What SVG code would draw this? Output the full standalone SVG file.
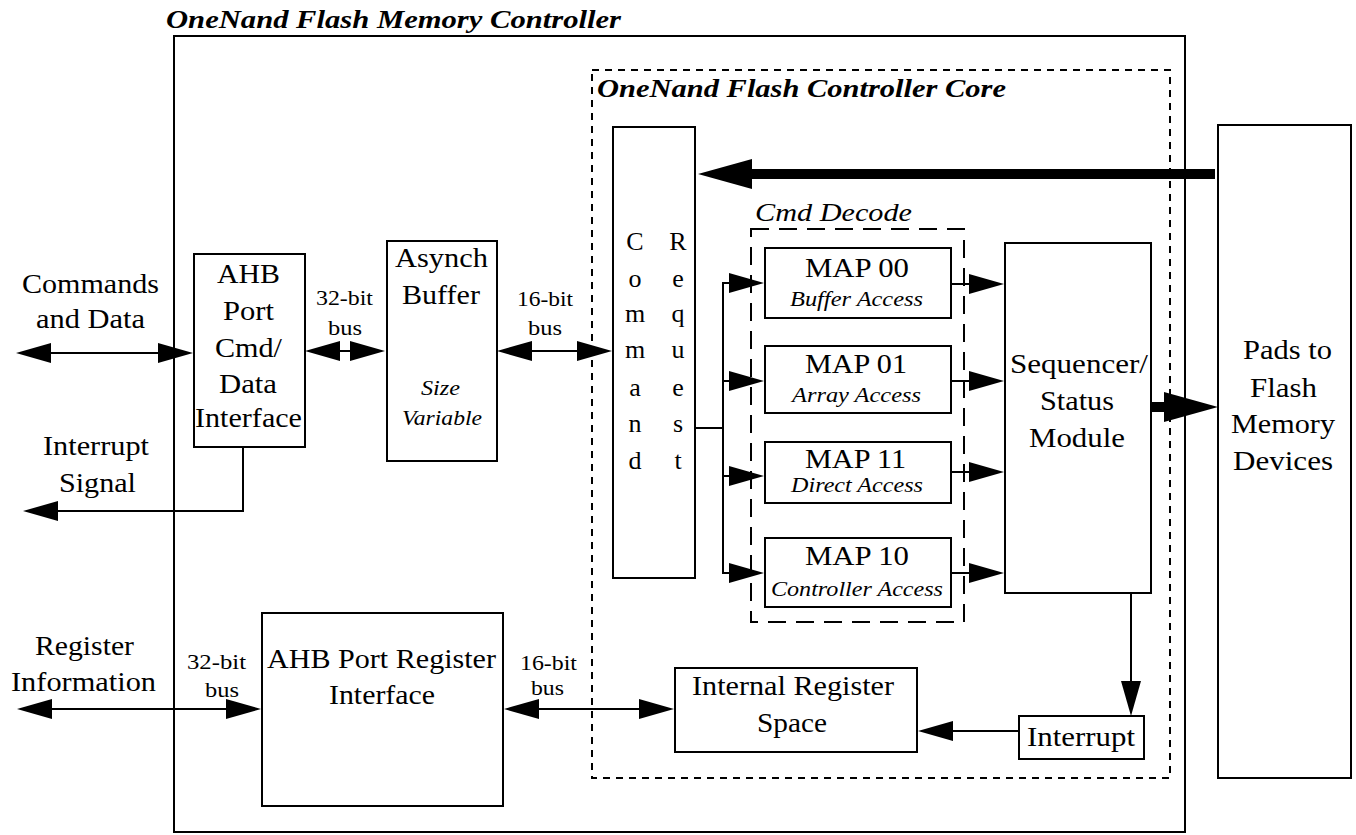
<svg xmlns="http://www.w3.org/2000/svg" width="1356" height="835" viewBox="0 0 1356 835">
<defs>
<marker id="ah" markerUnits="userSpaceOnUse" markerWidth="36" markerHeight="20" refX="1" refY="10" orient="auto-start-reverse" overflow="visible"><path d="M0,0 L35,10 L0,20 z" fill="#000"/></marker>
<marker id="th" markerUnits="userSpaceOnUse" markerWidth="56" markerHeight="30" refX="1" refY="15" orient="auto" overflow="visible"><path d="M0,0 L54,15 L0,30 z" fill="#000"/></marker>
</defs>
<rect x="0" y="0" width="1356" height="835" fill="#fff"/>
<g id="outer">
<rect x="174" y="36" width="1011" height="796" fill="none" stroke="#000" stroke-width="2"/>
<text font-family="Liberation Serif, serif" font-size="26" font-style="italic" font-weight="bold" x="166" y="28" textLength="455" lengthAdjust="spacingAndGlyphs">OneNand Flash Memory Controller</text>
</g>
<g id="core">
<rect x="592" y="70" width="578" height="708" fill="none" stroke="#000" stroke-width="2" stroke-dasharray="7 6"/>
<text font-family="Liberation Serif, serif" font-size="26" font-style="italic" font-weight="bold" x="597" y="97" textLength="409" lengthAdjust="spacingAndGlyphs">OneNand Flash Controller Core</text>
</g>
<g id="cmd-decode">
<rect x="751" y="229" width="213" height="393" fill="none" stroke="#000" stroke-width="2" stroke-dasharray="18 10"/>
<text font-family="Liberation Serif, serif" font-size="25" font-style="italic" x="755" y="221" textLength="157" lengthAdjust="spacingAndGlyphs">Cmd Decode</text>
</g>

<g id="labels-left" font-family="Liberation Serif, serif">
<text font-family="Liberation Serif, serif" font-size="27" x="22" y="293" textLength="137" lengthAdjust="spacingAndGlyphs">Commands</text>
<text font-family="Liberation Serif, serif" font-size="27" x="36" y="328" textLength="109" lengthAdjust="spacingAndGlyphs">and Data</text>
<text font-family="Liberation Serif, serif" font-size="27" x="43" y="455" textLength="106" lengthAdjust="spacingAndGlyphs">Interrupt</text>
<text font-family="Liberation Serif, serif" font-size="27" x="59" y="492" textLength="77" lengthAdjust="spacingAndGlyphs">Signal</text>
<text font-family="Liberation Serif, serif" font-size="27" x="35" y="655" textLength="99" lengthAdjust="spacingAndGlyphs">Register</text>
<text font-family="Liberation Serif, serif" font-size="27" x="11" y="691" textLength="145" lengthAdjust="spacingAndGlyphs">Information</text>
<text font-family="Liberation Serif, serif" font-size="21" x="316" y="305" textLength="57" lengthAdjust="spacingAndGlyphs">32-bit</text>
<text font-family="Liberation Serif, serif" font-size="21" x="328" y="335" textLength="34" lengthAdjust="spacingAndGlyphs">bus</text>
<text font-family="Liberation Serif, serif" font-size="21" x="517" y="306" textLength="56" lengthAdjust="spacingAndGlyphs">16-bit</text>
<text font-family="Liberation Serif, serif" font-size="21" x="528" y="335" textLength="34" lengthAdjust="spacingAndGlyphs">bus</text>
<text font-family="Liberation Serif, serif" font-size="21" x="187" y="669" textLength="59" lengthAdjust="spacingAndGlyphs">32-bit</text>
<text font-family="Liberation Serif, serif" font-size="21" x="205" y="697" textLength="34" lengthAdjust="spacingAndGlyphs">bus</text>
<text font-family="Liberation Serif, serif" font-size="21" x="520" y="670" textLength="57" lengthAdjust="spacingAndGlyphs">16-bit</text>
<text font-family="Liberation Serif, serif" font-size="21" x="531" y="695" textLength="33" lengthAdjust="spacingAndGlyphs">bus</text>
</g>

<g id="ahb-cmd">
<rect x="194" y="254" width="111" height="193" fill="#fff" stroke="#000" stroke-width="2"/>
<text font-family="Liberation Serif, serif" font-size="27" x="217" y="283" textLength="63" lengthAdjust="spacingAndGlyphs">AHB</text>
<text font-family="Liberation Serif, serif" font-size="27" x="223" y="320" textLength="51" lengthAdjust="spacingAndGlyphs">Port</text>
<text font-family="Liberation Serif, serif" font-size="27" x="215" y="357" textLength="67" lengthAdjust="spacingAndGlyphs">Cmd/</text>
<text font-family="Liberation Serif, serif" font-size="27" x="219" y="393" textLength="58" lengthAdjust="spacingAndGlyphs">Data</text>
<text font-family="Liberation Serif, serif" font-size="27" x="195" y="427" textLength="107" lengthAdjust="spacingAndGlyphs">Interface</text>
</g>

<g id="asynch-buffer">
<rect x="387" y="241" width="110" height="220" fill="#fff" stroke="#000" stroke-width="2"/>
<text font-family="Liberation Serif, serif" font-size="27" x="395" y="267" textLength="93" lengthAdjust="spacingAndGlyphs">Asynch</text>
<text font-family="Liberation Serif, serif" font-size="27" x="402" y="304" textLength="78" lengthAdjust="spacingAndGlyphs">Buffer</text>
<text font-family="Liberation Serif, serif" font-size="20" font-style="italic" x="421" y="395" textLength="39" lengthAdjust="spacingAndGlyphs">Size</text>
<text font-family="Liberation Serif, serif" font-size="20" font-style="italic" x="402" y="425" textLength="80" lengthAdjust="spacingAndGlyphs">Variable</text>
</g>

<g id="command-request" font-size="26" text-anchor="middle">
<rect x="613" y="127" width="82" height="451" fill="#fff" stroke="#000" stroke-width="2"/>
<text font-family="Liberation Serif, serif" x="635" y="250">C</text>
<text font-family="Liberation Serif, serif" x="635" y="287">o</text>
<text font-family="Liberation Serif, serif" x="635" y="322">m</text>
<text font-family="Liberation Serif, serif" x="635" y="358">m</text>
<text font-family="Liberation Serif, serif" x="635" y="396">a</text>
<text font-family="Liberation Serif, serif" x="635" y="432">n</text>
<text font-family="Liberation Serif, serif" x="635" y="469">d</text>
<text font-family="Liberation Serif, serif" x="678" y="250">R</text>
<text font-family="Liberation Serif, serif" x="678" y="287">e</text>
<text font-family="Liberation Serif, serif" x="678" y="322">q</text>
<text font-family="Liberation Serif, serif" x="678" y="358">u</text>
<text font-family="Liberation Serif, serif" x="678" y="396">e</text>
<text font-family="Liberation Serif, serif" x="678" y="432">s</text>
<text font-family="Liberation Serif, serif" x="678" y="469">t</text>
</g>

<g id="map00">
<rect x="765" y="248" width="186" height="70" fill="#fff" stroke="#000" stroke-width="2"/>
<text font-family="Liberation Serif, serif" font-size="27" x="805" y="277" textLength="104" lengthAdjust="spacingAndGlyphs">MAP 00</text>
<text font-family="Liberation Serif, serif" font-size="20" font-style="italic" x="790" y="306" textLength="133" lengthAdjust="spacingAndGlyphs">Buffer Access</text>
</g>
<g id="map01">
<rect x="765" y="346" width="186" height="67" fill="#fff" stroke="#000" stroke-width="2"/>
<text font-family="Liberation Serif, serif" font-size="27" x="805" y="373" textLength="102" lengthAdjust="spacingAndGlyphs">MAP 01</text>
<text font-family="Liberation Serif, serif" font-size="20" font-style="italic" x="792" y="402" textLength="129" lengthAdjust="spacingAndGlyphs">Array Access</text>
</g>
<g id="map11">
<rect x="765" y="442" width="186" height="61" fill="#fff" stroke="#000" stroke-width="2"/>
<text font-family="Liberation Serif, serif" font-size="27" x="805" y="468" textLength="101" lengthAdjust="spacingAndGlyphs">MAP 11</text>
<text font-family="Liberation Serif, serif" font-size="20" font-style="italic" x="791" y="492" textLength="132" lengthAdjust="spacingAndGlyphs">Direct Access</text>
</g>
<g id="map10">
<rect x="765" y="538" width="186" height="69" fill="#fff" stroke="#000" stroke-width="2"/>
<text font-family="Liberation Serif, serif" font-size="27" x="805" y="565" textLength="104" lengthAdjust="spacingAndGlyphs">MAP 10</text>
<text font-family="Liberation Serif, serif" font-size="20" font-style="italic" x="771" y="596" textLength="172" lengthAdjust="spacingAndGlyphs">Controller Access</text>
</g>

<g id="sequencer">
<rect x="1005" y="243" width="146" height="350" fill="#fff" stroke="#000" stroke-width="2"/>
<text font-family="Liberation Serif, serif" font-size="27" x="1010" y="373" textLength="138" lengthAdjust="spacingAndGlyphs">Sequencer/</text>
<text font-family="Liberation Serif, serif" font-size="27" x="1040" y="410" textLength="74" lengthAdjust="spacingAndGlyphs">Status</text>
<text font-family="Liberation Serif, serif" font-size="27" x="1029" y="447" textLength="96" lengthAdjust="spacingAndGlyphs">Module</text>
</g>

<g id="pads">
<rect x="1218" y="125" width="133" height="653" fill="#fff" stroke="#000" stroke-width="2"/>
<text font-family="Liberation Serif, serif" font-size="27" x="1243" y="359" textLength="89" lengthAdjust="spacingAndGlyphs">Pads to</text>
<text font-family="Liberation Serif, serif" font-size="27" x="1250" y="397" textLength="67" lengthAdjust="spacingAndGlyphs">Flash</text>
<text font-family="Liberation Serif, serif" font-size="27" x="1231" y="433" textLength="104" lengthAdjust="spacingAndGlyphs">Memory</text>
<text font-family="Liberation Serif, serif" font-size="27" x="1233" y="470" textLength="100" lengthAdjust="spacingAndGlyphs">Devices</text>
</g>

<g id="ahb-register">
<rect x="262" y="613" width="241" height="193" fill="#fff" stroke="#000" stroke-width="2"/>
<text font-family="Liberation Serif, serif" font-size="27" x="267" y="668" textLength="229" lengthAdjust="spacingAndGlyphs">AHB Port Register</text>
<text font-family="Liberation Serif, serif" font-size="27" x="329" y="704" textLength="106" lengthAdjust="spacingAndGlyphs">Interface</text>
</g>

<g id="internal-register">
<rect x="675" y="668" width="242" height="84" fill="#fff" stroke="#000" stroke-width="2"/>
<text font-family="Liberation Serif, serif" font-size="27" x="692" y="695" textLength="202" lengthAdjust="spacingAndGlyphs">Internal Register</text>
<text font-family="Liberation Serif, serif" font-size="27" x="757" y="732" textLength="70" lengthAdjust="spacingAndGlyphs">Space</text>
</g>

<g id="interrupt">
<rect x="1019" y="716" width="125" height="43" fill="#fff" stroke="#000" stroke-width="2"/>
<text font-family="Liberation Serif, serif" font-size="27" x="1027" y="746" textLength="108" lengthAdjust="spacingAndGlyphs">Interrupt</text>
</g>

<g id="connectors" fill="none" stroke="#000" stroke-width="2">
<path marker-start="url(#ah)" marker-end="url(#ah)" d="M50,353 H159"/>
<path marker-end="url(#ah)" d="M243,447 V511 H57"/>
<path marker-start="url(#ah)" marker-end="url(#ah)" d="M339,351 H351"/>
<path marker-start="url(#ah)" marker-end="url(#ah)" d="M531,351 H578"/>
<path stroke-width="10" marker-end="url(#th)" d="M1215,174 H751"/>
<path d="M695,428 H723 M723,283 V573"/>
<path marker-end="url(#ah)" d="M722,283 H730"/>
<path marker-end="url(#ah)" d="M722,381 H730"/>
<path marker-end="url(#ah)" d="M722,476 H730"/>
<path marker-end="url(#ah)" d="M722,573 H730"/>
<path marker-end="url(#ah)" d="M951,284 H970"/>
<path marker-end="url(#ah)" d="M951,381 H970"/>
<path marker-end="url(#ah)" d="M951,472 H970"/>
<path marker-end="url(#ah)" d="M951,573 H970"/>
<path stroke-width="10" marker-end="url(#th)" d="M1151,407 H1165"/>
<path marker-end="url(#ah)" d="M1131,593 V682"/>
<path marker-end="url(#ah)" d="M1019,731 H952"/>
<path marker-start="url(#ah)" marker-end="url(#ah)" d="M51,709 H227"/>
<path marker-start="url(#ah)" marker-end="url(#ah)" d="M538,709 H640"/>
</g>
</svg>
